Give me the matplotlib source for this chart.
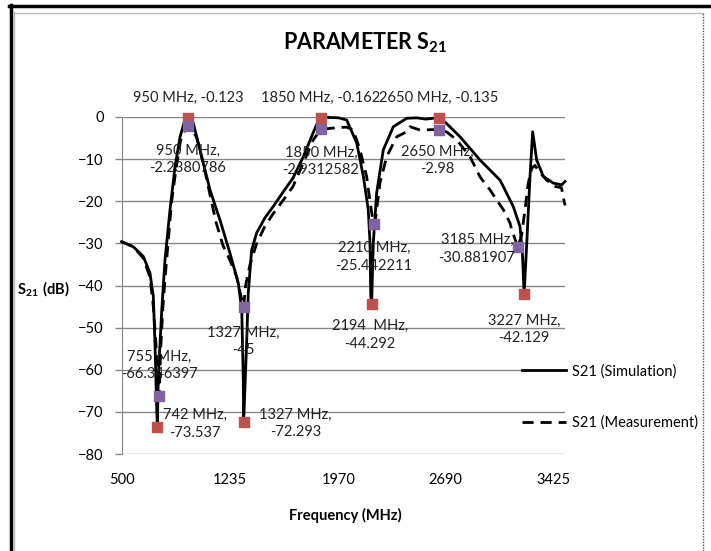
import matplotlib
matplotlib.use("Agg")
import matplotlib.pyplot as plt
from matplotlib.lines import Line2D

plt.rcParams['font.family'] = ['Lato', 'DejaVu Sans']
plt.rcParams['mathtext.fontset'] = 'custom'
plt.rcParams['mathtext.rm'] = 'Lato'
plt.rcParams['mathtext.bf'] = 'Lato:bold'

# simulation curve (MHz, dB)
sim_f = [500, 579, 647, 692, 715, 726, 738, 742, 749, 772, 794, 828, 862, 896, 925, 950,
         986, 1031, 1099, 1167, 1234, 1291, 1314, 1324, 1327, 1347, 1358, 1381, 1415, 1470,
         1526, 1600, 1661, 1730, 1797, 1825, 1850, 1900, 1970, 2025, 2093, 2138, 2171, 2183,
         2188, 2194, 2205, 2228, 2273, 2341, 2432, 2500, 2560, 2612, 2650, 2700, 2793, 2928,
         2996, 3064, 3086, 3154, 3199, 3215, 3227, 3245, 3267, 3285, 3312, 3357, 3425, 3482, 3504]
sim_db = [-29.6, -30.8, -33.1, -37, -42.6, -53.7, -69.6, -73.5, -61.6, -45.8, -33.9, -22, -11.8, -4.7, -1.2, -0.12,
          -1.5, -7.8, -17.3, -24.5, -32.3, -39.5, -45.8, -61.6, -72.3, -53.7, -41.8, -31.6, -27.5, -24,
          -21.3, -17.5, -14.5, -9.5, -3.8, -1.5, -0.16, -0.1, -0.2, -0.7, -6.2, -14.1, -22, -29.9,
          -42.6, -44.3, -30, -18, -7.8, -2.3, -0.3, -0.2, -0.5, -0.3, -0.135, -1.5, -4.7, -10.2,
          -12.6, -15, -16.5, -21.3, -26, -32, -42.1, -29.9, -14.1, -3.5, -10.2, -14.1, -15.7, -16.1, -15.3]

# measurement curve (MHz, dB)
meas_f = [500, 579, 647, 692, 715, 735, 755, 765, 780, 800, 839, 870, 900, 930, 950, 975,
          1009, 1050, 1099, 1140, 1187, 1234, 1280, 1305, 1327, 1340, 1370, 1415, 1470, 1526,
          1600, 1661, 1730, 1797, 1850, 1912, 1970, 2025, 2070, 2115, 2160, 2183, 2200, 2210,
          2217, 2250, 2296, 2364, 2432, 2454, 2522, 2600, 2650, 2700, 2770, 2860, 2928, 2996,
          3041, 3086, 3132, 3143, 3185, 3210, 3233, 3255, 3278, 3300, 3330, 3380, 3440, 3480, 3504]
meas_db = [-29.6, -30.8, -33.5, -38, -45, -55, -66.3, -55, -45, -36, -20, -12, -5.5, -3, -2.24, -2.5,
           -5, -10.5, -18.5, -25, -30.5, -34, -38, -42, -45, -40, -35, -30, -26, -23,
           -19.5, -16.5, -11, -5.5, -2.93, -2.7, -2.5, -2.4, -3.1, -7.8, -14.1, -20, -24, -25.4,
           -25.2, -15.7, -9.4, -4.7, -3.5, -2.3, -3.1, -3.0, -2.98, -3.5, -5.4, -9.4, -14.2, -17.3,
           -19.7, -22, -25.2, -26.8, -30.9, -28, -22, -15.7, -12.2, -11.5, -13, -15, -16.5, -16.8, -21]

# data-label points
sim_mark_f = [742, 950, 1327, 1850, 2194, 2650, 3227]
sim_mark_db = [-73.537, -0.123, -72.293, -0.162, -44.292, -0.135, -42.129]
sim_labels = ["742 MHz,\n-73.537", "950 MHz, -0.123", "1327 MHz,\n-72.293", "1850 MHz, -0.162",
              "2194  MHz,\n-44.292", "2650 MHz, -0.135", "3227 MHz,\n-42.129"]
meas_mark_f = [755, 950, 1327, 1850, 2210, 2650, 3185]
meas_mark_db = [-66.346397, -2.2380786, -45, -2.9312582, -25.442211, -2.98, -30.881907]
meas_labels = ["755 MHz,\n-66.346397", "950 MHz,\n-2.2380786", "1327 MHz,\n-45", "1850 MHz,\n-2.9312582",
               "2210 MHz,\n-25.442211", "2650 MHz,\n-2.98", "3185 MHz,\n-30.881907"]

x_ticks = [500, 1235, 1970, 2690, 3425]
y_ticks = list(range(-80, 1, 10))

# label offsets in pixels (dx, dy)
sim_off = [(38, 3), (0, 20), (52, -2), (0, 20), (-2, -31), (0, 20), (0, -35)]
meas_off = [(0, 31), (0, -33), (0, -35), (0, -32), (0, -33), (-2, -31), (-41, -2)]

W, H = 711, 551
fig = plt.figure(figsize=(W / 100, H / 100), dpi=100)
ax = fig.add_axes([121.6 / W, (H - 454) / H, (565 - 121.6) / W, (454 - 117) / H])

ax.plot(sim_f, sim_db, color='black', lw=2.0, clip_on=False, label='S21 (Simulation)', zorder=3)
ax.plot(meas_f, meas_db, color='black', lw=2.0, ls=(0, (4, 2.5)), clip_on=False,
        label='S21 (Measurement)', zorder=3)
ax.scatter(sim_mark_f, sim_mark_db, marker='s', s=60, color='#C0504D', zorder=4, clip_on=False)
ax.scatter(meas_mark_f, meas_mark_db, marker='s', s=60, color='#8064A2', zorder=4, clip_on=False)

for f, v, t, o in zip(sim_mark_f, sim_mark_db, sim_labels, sim_off):
    ax.annotate(t, (f, v), xytext=o, textcoords='offset pixels', ha='center', va='center',
                fontsize=10.5, linespacing=1.35, color='#222222', zorder=5, annotation_clip=False)
for f, v, t, o in zip(meas_mark_f, meas_mark_db, meas_labels, meas_off):
    ax.annotate(t, (f, v), xytext=o, textcoords='offset pixels', ha='center', va='center',
                fontsize=10.5, linespacing=1.35, color='#222222', zorder=5, annotation_clip=False)

ax.set_xlim(500, 3504)
ax.set_ylim(-80, 0)
ax.set_xticks(x_ticks)
ax.set_yticks(y_ticks)
ax.tick_params(axis='x', length=0, pad=14, labelsize=10.5)
ax.tick_params(axis='y', length=5, width=1, color='#868686', pad=8, labelsize=10.5)
ax.yaxis.grid(True, color='#868686', lw=1)
ax.set_axisbelow(True)
for s in ['top', 'right', 'bottom']:
    ax.spines[s].set_visible(False)
ax.spines['left'].set_color('#868686')

ax.legend(loc='upper left', bbox_to_anchor=(522 / W, 1 - 364 / H), bbox_transform=fig.transFigure,
          frameon=False, fontsize=10.5, handlelength=3.0, handletextpad=0.4, labelspacing=2.55,
          borderpad=0, borderaxespad=0)

fig.text(365 / W, 1 - 43 / H, r"PARAMETER $\mathbf{S_{21}}$", ha='center', va='center',
         fontsize=15.5, fontweight='bold')
fig.text(43 / W, 1 - 289 / H, r"$\mathbf{S_{21}\ (dB)}$", ha='center', va='center', fontsize=10.5)
fig.text(345 / W, 1 - 515 / H, "Frequency (MHz)", ha='center', va='center', fontsize=10.5,
         fontweight='bold')

# chart frame
fig.add_artist(Line2D([10.5 / W, 10.5 / W], [0, 1 - 5 / H], color='black', lw=2.5))
fig.add_artist(Line2D([9 / W, 1], [1 - 6 / H, 1 - 6 / H], color='black', lw=2.5))
fig.add_artist(Line2D([14.5 / W, 14.5 / W], [0, 1 - 12 / H], color='#bbbbbb', lw=1))
fig.add_artist(Line2D([14 / W, 703 / W], [1 - 12.5 / H, 1 - 12.5 / H], color='#bbbbbb', lw=1))
fig.add_artist(Line2D([703 / W, 703 / W], [0, 1 - 12.5 / H], color='#555555', lw=1, ls=(0, (1, 1))))

fig.savefig('out.png', dpi=100)
